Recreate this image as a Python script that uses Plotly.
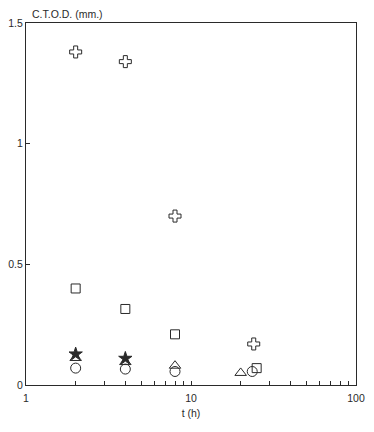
import plotly.graph_objects as go

# Data (t in hours, C.T.O.D. in mm)
cross_t = [2, 4, 8, 24]
cross_v = [1.38, 1.34, 0.70, 0.17]

square_t = [2, 4, 8, 25]
square_v = [0.40, 0.315, 0.21, 0.07]

star_t = [2, 4]
star_v = [0.128, 0.11]

triangle_t = [2, 4, 8, 20]
triangle_v = [0.112, 0.095, 0.08, 0.05]

circle_t = [2, 4, 8, 23.5]
circle_v = [0.07, 0.066, 0.056, 0.056]

x_tickvals = [1, 2, 3, 4, 5, 6, 7, 8, 9, 10, 20, 30, 40, 50, 60, 70, 80, 90, 100]
x_ticktext = ["1", "", "", "", "", "", "", "", "", "10", "", "", "", "", "", "", "", "", "100"]
y_tickvals = [0, 0.5, 1, 1.5]
y_ticktext = ["0", "0.5", "1", "1.5"]

ink = "#2a2a2a"
font = dict(family="Liberation Sans, Arial, sans-serif", size=10.5, color=ink)

fig = go.Figure()

def add(t, v, symbol, size):
    fig.add_trace(go.Scatter(
        x=t, y=v, mode="markers",
        marker=dict(symbol=symbol, size=size, color=ink,
                    line=dict(color=ink, width=1)),
        showlegend=False, hoverinfo="x+y"))

add(cross_t, cross_v, "cross-open", 10)
add(square_t, square_v, "square-open", 9)
add(circle_t, circle_v, "circle-open", 10)
add(triangle_t, triangle_v, "triangle-up-open", 10)
add(star_t, star_v, "star", 10)

# The page body adds an 8 px margin, so the figure is sized to fit inside it.
fig.update_layout(
    width=358, height=416,
    margin=dict(l=18, r=10, t=15, b=39),
    paper_bgcolor="white", plot_bgcolor="white",
    font=font,
    xaxis=dict(
        type="log", range=[0, 2], automargin=False,
        tickmode="array", tickvals=x_tickvals, ticktext=x_ticktext,
        ticks="inside", ticklen=4, tickwidth=1, tickcolor=ink,
        ticklabelstandoff=3,
        showgrid=False, zeroline=False,
        showline=True, linecolor=ink, linewidth=1.2, mirror=True,
        title=dict(text="t (h)", font=font, standoff=6),
    ),
    yaxis=dict(
        range=[0, 1.5], automargin=False,
        tickmode="array", tickvals=y_tickvals, ticktext=y_ticktext,
        ticks="inside", ticklen=4, tickwidth=1, tickcolor=ink,
        showgrid=False, zeroline=False,
        showline=True, linecolor=ink, linewidth=1.2, mirror=True,
    ),
    annotations=[dict(
        text="C.T.O.D. (mm.)", xref="paper", yref="paper",
        x=0, y=1, xanchor="left", yanchor="bottom", yshift=1, xshift=4,
        showarrow=False, font=font)],
)

fig.write_html("out.html")
